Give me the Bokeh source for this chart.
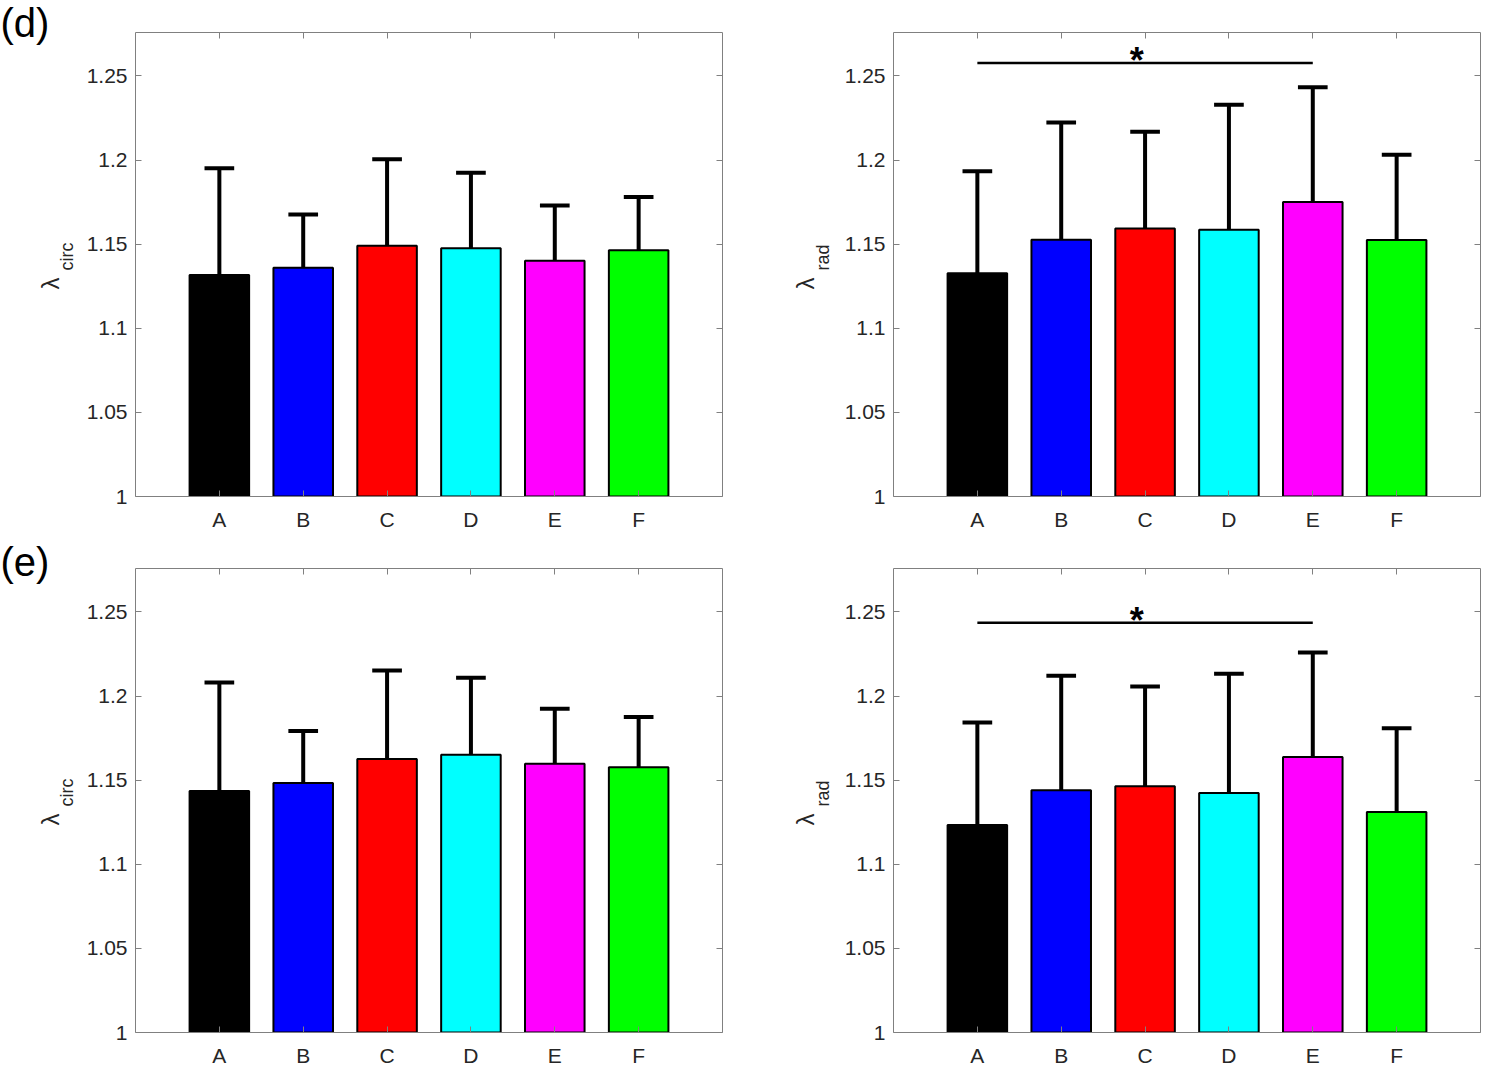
import math
from bokeh.plotting import figure
from bokeh.layouts import column, row
from bokeh.models import (LinearAxis, FixedTicker, Range1d, ColumnDataSource,
                          CustomLabelingPolicy, Plot)
from bokeh.core.properties import value
from bokeh.embed import file_html
from bokeh.resources import INLINE

# ---------------- data ----------------
categories = ["A", "B", "C", "D", "E", "F"]
bar_colors = ["#000000", "#0000FF", "#FF0000", "#00FFFF", "#FF00FF", "#00FF00"]
positions = [1, 2, 3, 4, 5, 6]

y_ticks = [1.0, 1.05, 1.1, 1.15, 1.2, 1.25]
y_tick_labels = ["1", "1.05", "1.1", "1.15", "1.2", "1.25"]

d_circ_mean = [1.1316, 1.1360, 1.1491, 1.1475, 1.1401, 1.1464]
d_circ_sd = [0.0635, 0.0316, 0.0513, 0.0449, 0.0328, 0.0316]

d_rad_mean = [1.1327, 1.1526, 1.1593, 1.1585, 1.1751, 1.1524]
d_rad_sd = [0.0607, 0.0697, 0.0575, 0.0743, 0.0681, 0.0508]

e_circ_mean = [1.1436, 1.1483, 1.1626, 1.1651, 1.1598, 1.1577]
e_circ_sd = [0.0644, 0.0309, 0.0525, 0.0457, 0.0326, 0.0298]

e_rad_mean = [1.1234, 1.1440, 1.1464, 1.1423, 1.1638, 1.1311]
e_rad_sd = [0.0608, 0.0681, 0.0593, 0.0710, 0.0620, 0.0498]

d_rad_sig = ("A", "E", 1.2576)
e_rad_sig = ("A", "E", 1.2436)

# ---------------- style ----------------
FONT = "Liberation Sans"
TXT = "#262626"
AXC = "#808080"
FW, FH = 587, 464
Y_MAX = 1.2758
BT = 32
BB_TOP, BB_BOT = 40, 37
FREE = "frame_align" in Plot.properties()

NO_LABELS = CustomLabelingPolicy(code="""
try { for (let i = 0; i < indices.size; i++) { indices.unset(i) } } catch (e) {}
return indices
""")


def style_axis(ax, labels=True, standoff=8):
    ax.axis_line_color = AXC
    ax.axis_line_width = 1
    ax.major_tick_in = 6
    ax.major_tick_out = 0
    ax.major_tick_line_color = AXC
    ax.minor_tick_in = 0
    ax.minor_tick_out = 0
    ax.major_label_text_font = FONT
    ax.major_label_text_color = TXT
    if labels:
        ax.major_label_text_font_size = "21px"
        ax.major_label_standoff = standoff
    else:
        ax.major_label_text_font_size = "0px"
        ax.major_label_standoff = 0
        ax.major_label_policy = NO_LABELS


def make_panel(means, sds, bl, br, bb, sig=None):
    p = figure(frame_width=FW, frame_height=FH,
               x_range=Range1d(0, 7), y_range=Range1d(1, Y_MAX),
               x_axis_type=None, y_axis_type=None,
               output_backend="svg", toolbar_location=None,
               min_border_left=bl, min_border_right=br,
               min_border_top=BT, min_border_bottom=bb)
    p.outline_line_color = None
    p.xgrid.visible = False
    p.ygrid.visible = False
    p.background_fill_color = "white"
    p.border_fill_color = "white"

    xover = {pos: c for pos, c in zip(positions, categories)}
    yover = {t: l for t, l in zip(y_ticks, y_tick_labels)}
    for place in ["below", "above"]:
        ax = LinearAxis(ticker=FixedTicker(ticks=positions))
        ax.major_label_overrides = xover
        style_axis(ax, labels=(place == "below"), standoff=11)
        p.add_layout(ax, place)
    for place in ["left", "right"]:
        ax = LinearAxis(ticker=FixedTicker(ticks=y_ticks))
        ax.major_label_overrides = yover
        style_axis(ax, labels=(place == "left"), standoff=8)
        p.add_layout(ax, place)

    tops = [m + s for m, s in zip(means, sds)]
    src = ColumnDataSource(dict(x=positions, top=means, err=tops, color=bar_colors,
                                cl=[x - 0.177 for x in positions],
                                cr=[x + 0.177 for x in positions]))
    p.vbar(x="x", top="top", bottom=1, width=0.71, fill_color="color",
           line_color="black", line_width=2, source=src)
    p.segment(x0="x", y0="top", x1="x", y1="err", line_color="black",
              line_width=4, line_cap="butt", source=src)
    p.segment(x0="cl", y0="err", x1="cr", y1="err", line_color="black",
              line_width=4, line_cap="butt", source=src)

    if sig is not None:
        a, b, ys = sig
        xa = positions[categories.index(a)]
        xb = positions[categories.index(b)]
        p.segment(x0=[xa], y0=[ys], x1=[xb], y1=[ys], line_color="black",
                  line_width=2.5)
        p.text(x=[(xa + xb) / 2 - 0.1], y=[ys + 0.0015], text=["*"],
               text_font=value(FONT), text_font_style="bold",
               text_font_size="36px", text_align="center",
               text_baseline="middle", text_color="black")
    return p


def label_strip(width, bb, lam_x, sub_x, sub, sub_dy, panel_label=None, tag_dy=2):
    """Narrow figure holding the y-axis title (lambda + subscript) and the
    panel tag; its data units are pixels."""
    total_h = BT + FH + bb
    if FREE:
        s = figure(width=width, height=total_h, x_range=Range1d(0, width),
                   y_range=Range1d(0, total_h), x_axis_type=None, y_axis_type=None,
                   output_backend="svg", toolbar_location=None, min_border=0)
        s.frame_align = False
        y0 = bb  # frame bottom of neighbouring panel, in strip units
    else:
        s = figure(frame_width=width, frame_height=FH, x_range=Range1d(0, width),
                   y_range=Range1d(0, FH), x_axis_type=None, y_axis_type=None,
                   output_backend="svg", toolbar_location=None,
                   min_border_left=0, min_border_right=0,
                   min_border_top=BT, min_border_bottom=bb)
        y0 = 0
    s.outline_line_color = None
    s.xgrid.visible = False
    s.ygrid.visible = False
    s.background_fill_color = "white"
    s.border_fill_color = "white"
    yc = y0 + FH / 2
    s.text(x=[lam_x], y=[yc - 19], text=["λ"], angle=math.pi / 2,
           text_align="center", text_baseline="middle", text_font=value(FONT),
           text_font_size="24px", text_color=TXT)
    s.text(x=[sub_x], y=[yc + sub_dy], text=[sub], angle=math.pi / 2,
           text_align="center", text_baseline="middle", text_font=value(FONT),
           text_font_size="18px", text_color=TXT)
    if panel_label is not None:
        s.text(x=[0], y=[y0 + FH - tag_dy], text=[panel_label], text_align="left",
               text_baseline="alphabetic", text_font=value(FONT),
               text_font_size="40px", text_color="black")
    return s


p1 = make_panel(d_circ_mean, d_circ_sd, 56, 20, BB_TOP)
p2 = make_panel(d_rad_mean, d_rad_sd, 50, 6, BB_TOP, sig=d_rad_sig)
p3 = make_panel(e_circ_mean, e_circ_sd, 56, 20, BB_BOT)
p4 = make_panel(e_rad_mean, e_rad_sd, 50, 6, BB_BOT, sig=e_rad_sig)

s1 = label_strip(79, BB_TOP, 50, 66, "circ", 8, "(d)", tag_dy=-10)
s2 = label_strip(99, BB_TOP, 63, 80, "rad", 7)
s3 = label_strip(79, BB_BOT, 50, 66, "circ", 8, "(e)", tag_dy=-7)
s4 = label_strip(99, BB_BOT, 63, 80, "rad", 7)

layout = column(row(s1, p1, s2, p2), row(s3, p3, s4, p4))

with open("out.html", "w") as f:
    f.write(file_html(layout, INLINE))
